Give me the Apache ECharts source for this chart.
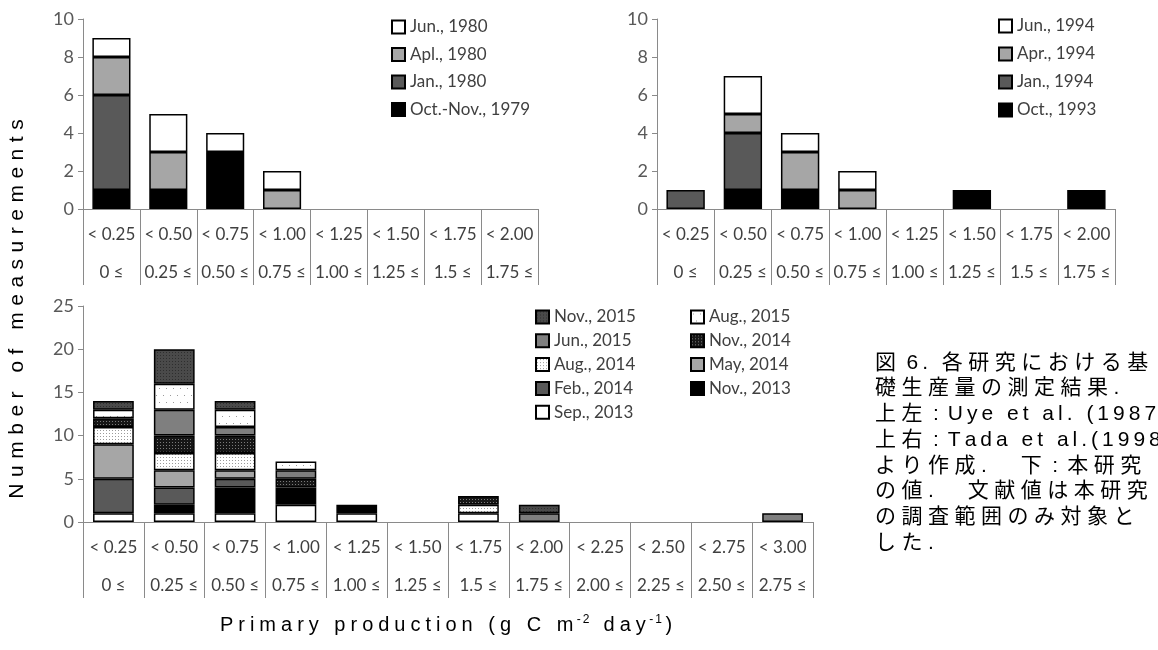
<!DOCTYPE html>
<html><head><meta charset="utf-8">
<script src="https://cdn.jsdelivr.net/npm/echarts@6/dist/echarts.min.js"></script>
<style>html,body{margin:0;padding:0;background:#fff}#c{width:1158px;height:650px}</style>
</head><body><div id="c"></div>
<script>
// ---------- data ----------
const binUpper8 = ['< 0.25','< 0.50','< 0.75','< 1.00','< 1.25','< 1.50','< 1.75','< 2.00'];
const binLower8 = ['0 ≤','0.25 ≤','0.50 ≤','0.75 ≤','1.00 ≤','1.25 ≤','1.5 ≤','1.75 ≤'];
const binUpper12 = ['< 0.25','< 0.50','< 0.75','< 1.00','< 1.25','< 1.50','< 1.75','< 2.00','< 2.25','< 2.50','< 2.75','< 3.00'];
const binLower12 = ['0 ≤','0.25 ≤','0.50 ≤','0.75 ≤','1.00 ≤','1.25 ≤','1.5 ≤','1.75 ≤','2.00 ≤','2.25 ≤','2.50 ≤','2.75 ≤'];

// Uye et al. (1987)
const octNov1979 = [1,1,3,0,0,0,0,0];
const jan1980    = [5,0,0,0,0,0,0,0];
const apl1980    = [2,2,0,1,0,0,0,0];
const jun1980    = [1,2,1,1,0,0,0,0];
// Tada et al. (1998)
const oct1993 = [0,1,1,0,0,1,0,1];
const jan1994 = [1,3,0,0,0,0,0,0];
const apr1994 = [0,1,2,1,0,0,0,0];
const jun1994 = [0,2,1,1,0,0,0,0];
// This study
const sep2013 = [1,1,1,2,1,0,1,0,0,0,0,0];
const nov2013 = [0,1,3,2,1,0,0,0,0,0,0,0];
const feb2014 = [4,2,1,0,0,0,0,0,0,0,0,0];
const may2014 = [4,2,1,0,0,0,0,0,0,0,0,0];
const aug2014 = [2,2,2,0,0,0,1,0,0,0,0,0];
const nov2014 = [1,2,2,1,0,0,1,0,0,0,0,0];
const jun2015 = [0,3,1,1,0,0,0,1,0,0,0,1];
const aug2015 = [1,3,2,1,0,0,0,0,0,0,0,0];
const nov2015 = [1,4,1,0,0,0,0,1,0,0,0,0];

const yTitle = 'Number of measurements';
const captionLines = [
  '図 6. 各研究における基',
  '礎生産量の測定結果.',
  '上左 : Uye et al. (1987)',
  '上右 : Tada et al.(1998)',
  'より作成. 下 : 本研究',
  'の値. 文献値は本研究',
  'の調査範囲のみ対象と',
  'した.'
];

// ---------- styles ----------
function pattern(bg, dot, size, pts) {
  const c = document.createElement('canvas');
  c.width = c.height = size;
  const g = c.getContext('2d');
  g.fillStyle = bg; g.fillRect(0, 0, size, size);
  g.fillStyle = dot;
  pts.forEach(p => g.fillRect(p[0], p[1], p[2] || 1, p[2] || 1));
  return { image: c, repeat: 'repeat' };
}
const C_BLACK = '#000000', C_DARK = '#595959', C_LIGHT = '#a6a6a6', C_WHITE = '#ffffff', C_MID = '#7f7f7f';
const P_AUG14 = pattern('#ffffff', '#9a9a9a', 3, [[1,1]]);
const P_AUG15 = pattern('#ffffff', '#9a9a9a', 14, [[2,3],[9,3],[5,10],[12,10]]);
const P_NOV14 = pattern('#161616', '#7a7a7a', 3, [[1,1]]);
const P_NOV15 = pattern('#4a4a4a', '#2e2e2e', 3, [[1,1]]);

const tickFont = 'Lato';
function bar(name, data, color, gi) {
  return {
    type: 'bar', name, stack: 's' + gi, xAxisIndex: gi, yAxisIndex: gi,
    data: data.map(v => v === 0 ? '-' : v),
    barCategoryGap: '33%',
    itemStyle: { color, borderColor: '#000', borderWidth: 1.5 },
    emphasis: { disabled: true }, animation: false
  };
}
function xAxis(gi, upper, lower) {
  return {
    type: 'category', gridIndex: gi, data: upper,
    axisLine: { lineStyle: { color: '#8a8a8a', width: 1 } },
    axisTick: { show: true, length: 76, alignWithLabel: false, lineStyle: { color: '#8a8a8a' } },
    axisLabel: {
      interval: 0, hideOverlap: false, margin: 7, lineHeight: 38,
      fontSize: 17, fontFamily: tickFont, color: '#404040',
      formatter: (v, i) => v + '\n' + lower[i]
    }
  };
}
function yAxis(gi, max, interval) {
  return {
    type: 'value', gridIndex: gi, min: 0, max, interval,
    axisLine: { show: true, lineStyle: { color: '#8a8a8a', width: 1 } },
    axisTick: { show: true, length: 5, lineStyle: { color: '#8a8a8a' } },
    splitLine: { show: false },
    axisLabel: { fontSize: 18, fontFamily: tickFont, color: '#595959', margin: 9 }
  };
}
function legend(left, top, names, gap) {
  return {
    orient: 'vertical', left, top, data: names, itemWidth: 13, itemHeight: 13, itemGap: gap,
    icon: 'rect', selectedMode: false, padding: 0,
    textStyle: { fontSize: 17, lineHeight: 18, fontFamily: tickFont, color: '#404040' }
  };
}

// letter-spaced text built as rich text (Word-like character spacing)
const mctx = document.createElement('canvas').getContext('2d');
const isCJK = ch => !!ch && ch.charCodeAt(0) > 0x2e80;
function spaced(segments, fontSize, family, extra, cjkPitch, color, opts) {
  opts = opts || {};
  const rich = {}; let out = '';
  segments.forEach(seg => {
    const fs = seg.sup ? Math.round(fontSize * 0.62) : fontSize;
    mctx.font = fs + 'px ' + family;
    const chars = Array.from(seg.t);
    chars.forEach((ch, k) => {
      const prev = chars[k - 1], next = chars[k + 1];
      let w;
      if (isCJK(ch)) w = cjkPitch;
      else if (opts.space != null && ch === ' ' && (isCJK(prev) || prev === ':' || next === ':')) w = opts.space;
      else if (opts.cjkDot != null && ch === '.' && isCJK(prev)) w = opts.cjkDot;
      else w = mctx.measureText(ch).width + (seg.sup ? extra * 0.4 : extra);
      const key = (seg.sup ? 's' : 'n') + Math.round(w * 10);
      rich[key] = { width: w, fontSize: fs, fontFamily: family, fill: color,
                    verticalAlign: seg.sup ? 'top' : 'middle', lineHeight: fontSize + 2 };
      out += '{' + key + '|' + ch + '}';
    });
  });
  return { text: out, rich };
}

const graphics = [];
const yt = spaced([{ t: yTitle }], 21, "'Liberation Sans'", 6.5, 0, '#000');
graphics.push({ type: 'text', x: 17, y: 309, rotation: Math.PI / 2,
  style: { text: yt.text, rich: yt.rich, align: 'center', verticalAlign: 'middle' } });
const xt = spaced([{ t: 'Primary production (g C m' }, { t: '-2', sup: true }, { t: ' day' }, { t: '-1', sup: true }, { t: ')' }],
  20, "'Liberation Sans'", 5, 0, '#000');
graphics.push({ type: 'text', x: 446, y: 625,
  style: { text: xt.text, rich: xt.rich, align: 'center', verticalAlign: 'middle' } });
captionLines.forEach((ln, i) => {
  const r = spaced([{ t: ln }], 21, "'Liberation Sans','Noto Sans CJK JP'", 4, 26.5, '#000', { space: 5, cjkDot: 30 });
  graphics.push({ type: 'text', x: 875, y: 363 + i * 25.7,
    style: { text: r.text, rich: r.rich, align: 'left', verticalAlign: 'middle' } });
});

const chart = echarts.init(document.getElementById('c'), null, { renderer: 'canvas' });
chart.setOption({
  animation: false,
  backgroundColor: '#ffffff',
  grid: [
    { left: 83, top: 19, width: 455, height: 190 },
    { left: 657, top: 19, width: 458, height: 190 },
    { left: 83, top: 306, width: 730, height: 216 }
  ],
  xAxis: [xAxis(0, binUpper8, binLower8), xAxis(1, binUpper8, binLower8), xAxis(2, binUpper12, binLower12)],
  yAxis: [yAxis(0, 10, 2), yAxis(1, 10, 2), yAxis(2, 25, 5)],
  legend: [
    legend(391, 18, ['Jun., 1980', 'Apl., 1980', 'Jan., 1980', 'Oct.-Nov., 1979'], 9.5),
    legend(998, 17, ['Jun., 1994', 'Apr., 1994', 'Jan., 1994', 'Oct., 1993'], 10),
    legend(535, 308, ['Nov., 2015', 'Jun., 2015', 'Aug., 2014', 'Feb., 2014', 'Sep., 2013'], 5.8),
    legend(690, 308, ['Aug., 2015', 'Nov., 2014', 'May, 2014', 'Nov., 2013'], 5.8)
  ],
  series: [
    bar('Oct.-Nov., 1979', octNov1979, C_BLACK, 0),
    bar('Jan., 1980', jan1980, C_DARK, 0),
    bar('Apl., 1980', apl1980, C_LIGHT, 0),
    bar('Jun., 1980', jun1980, C_WHITE, 0),
    bar('Oct., 1993', oct1993, C_BLACK, 1),
    bar('Jan., 1994', jan1994, C_DARK, 1),
    bar('Apr., 1994', apr1994, C_LIGHT, 1),
    bar('Jun., 1994', jun1994, C_WHITE, 1),
    bar('Sep., 2013', sep2013, C_WHITE, 2),
    bar('Nov., 2013', nov2013, C_BLACK, 2),
    bar('Feb., 2014', feb2014, C_DARK, 2),
    bar('May, 2014', may2014, C_LIGHT, 2),
    bar('Aug., 2014', aug2014, P_AUG14, 2),
    bar('Nov., 2014', nov2014, P_NOV14, 2),
    bar('Jun., 2015', jun2015, C_MID, 2),
    bar('Aug., 2015', aug2015, P_AUG15, 2),
    bar('Nov., 2015', nov2015, P_NOV15, 2)
  ],
  graphic: graphics
});
</script></body></html>
